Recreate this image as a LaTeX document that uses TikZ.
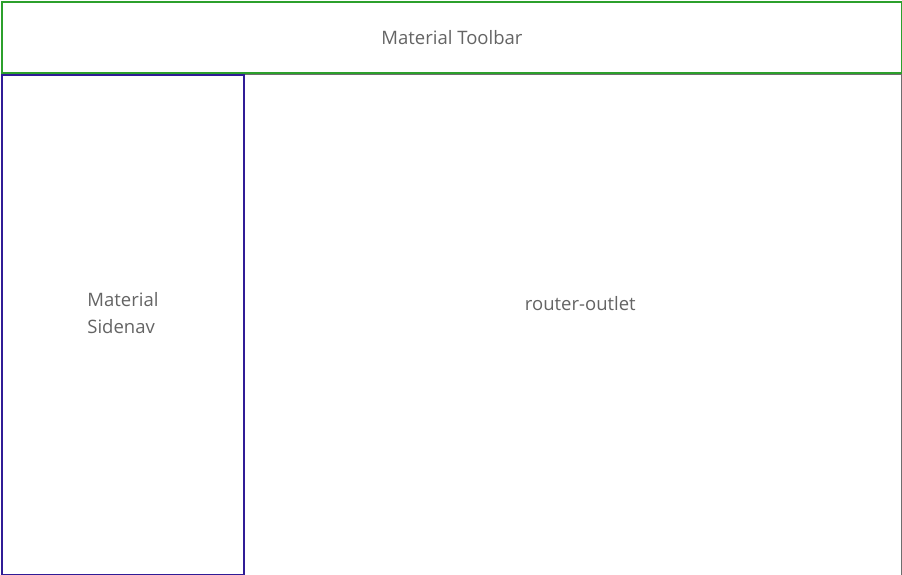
\documentclass[tikz,border=0pt]{standalone}
\usepackage{fontspec}
\setmainfont{Open Sans}
\definecolor{toolbargreen}{RGB}{44,160,44}
\definecolor{sidenavblue}{RGB}{48,28,150}
\definecolor{outletgray}{RGB}{110,110,110}
\definecolor{labelgray}{RGB}{100,100,100}
\begin{document}
\begin{tikzpicture}[x=1pt,y=-1pt,
    panel/.style={draw,inner sep=0pt,anchor=north west},
    labeltext/.style={text=labelgray,font=\fontsize{18.5}{27}\selectfont,align=left}]
  \useasboundingbox (0,0) rectangle (902,575);
  % router-outlet area
  \node[panel,draw=outletgray,line width=1.2pt,minimum width=657.5pt,minimum height=501pt] (outlet) at (243,73.5) {};
  % toolbar
  \node[panel,draw=toolbargreen,line width=2.2pt,minimum width=899.5pt,minimum height=70.5pt] (toolbar) at (1.1,1.1) {};
  % sidenav
  \node[panel,draw=sidenavblue,line width=2.2pt,minimum width=241.5pt,minimum height=499.5pt] (sidenav) at (1.1,74) {};
  \node[labeltext] (toolbarlabel) at (toolbar.center) {Material Toolbar};
  \node[labeltext] (sidenavlabel) at ([yshift=12pt]sidenav.center) {Material\\Sidenav};
  \node[labeltext] (outletlabel) at ([xshift=8pt,yshift=21pt]outlet.center) {router-outlet};
\end{tikzpicture}
\end{document}
